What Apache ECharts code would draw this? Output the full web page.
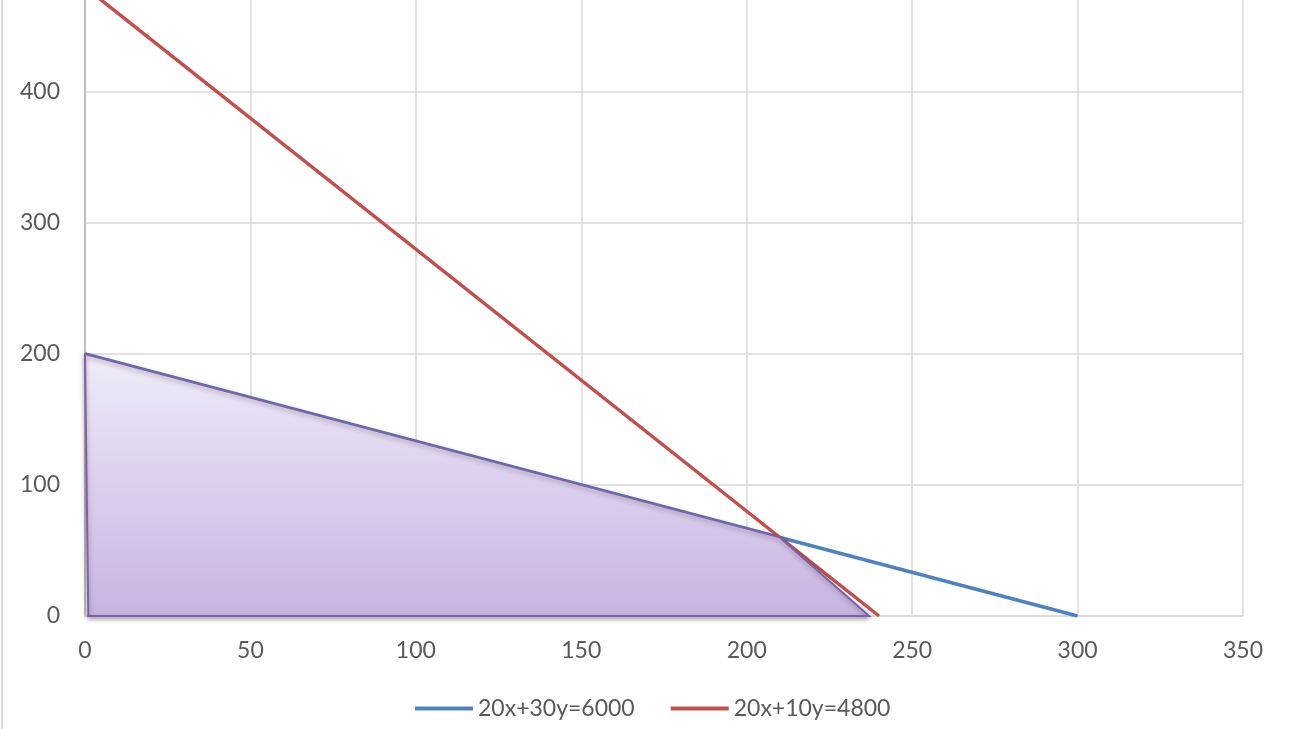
<!DOCTYPE html>
<html><head><meta charset="utf-8">
<script src="https://cdn.jsdelivr.net/npm/echarts@6/dist/echarts.min.js"></script>
<style>html,body{margin:0;padding:0;background:#fff}#c{width:1295px;height:729px}</style>
</head><body><div id="c"></div>
<script>
// Data
const blueName = '20x+30y=6000';
const blueX = [0, 300];
const blueY = [200, 0];
const redName = '20x+10y=4800';
const redX = [0, 240];
const redY = [480, 0];
const regionX = [0, 210, 237, 1];
const regionY = [200, 60, 0, 0];

const zip = (a, b) => a.map((v, i) => [v, b[i]]);
const FONT = 'Lato';
const chart = echarts.init(document.getElementById('c'));
chart.setOption({
  animation: false,
  backgroundColor: '#fff',
  textStyle: { fontFamily: FONT },
  grid: { left: 85, right: 52, top: -39, bottom: 113, containLabel: false, outerBoundsMode: 'none' },
  xAxis: {
    type: 'value', min: 0, max: 350, interval: 50,
    axisLine: { show: true, lineStyle: { color: '#d9d9d9', width: 1.5 } },
    axisTick: { show: false },
    splitLine: { show: true, lineStyle: { color: '#d9d9d9', width: 1.5 } },
    axisLabel: { color: '#595959', fontSize: 23, fontFamily: FONT, margin: 23 }
  },
  yAxis: {
    type: 'value', min: 0, max: 500, interval: 100,
    axisLine: { show: true, lineStyle: { color: '#bfbfbf', width: 2 } },
    axisTick: { show: false },
    splitLine: { show: true, lineStyle: { color: '#d9d9d9', width: 1.5 } },
    axisLabel: { color: '#595959', fontSize: 23, fontFamily: FONT, margin: 25 }
  },
  legend: {
    left: 415, top: 697, padding: 0,
    icon: 'rect',
    itemWidth: 58, itemHeight: 4, itemGap: 36,
    textStyle: { color: '#595959', fontSize: 23, fontFamily: FONT },
    data: [blueName, redName]
  },
  graphic: [{
    type: 'line', shape: { x1: 2, y1: 0, x2: 2, y2: 729 },
    style: { stroke: '#d9d9d9', lineWidth: 2 }
  }],
  series: [
    {
      name: blueName, type: 'line', data: zip(blueX, blueY), showSymbol: false,
      lineStyle: { color: '#4F81BD', width: 3.5 }, itemStyle: { color: '#4F81BD' }, z: 2
    },
    {
      name: redName, type: 'line', data: zip(redX, redY), showSymbol: false,
      lineStyle: { color: '#C0504D', width: 3.5 }, itemStyle: { color: '#C0504D' }, z: 3
    },
    {
      name: 'region', type: 'custom', z: 4,
      data: zip(regionX, regionY),
      renderItem: function (params, api) {
        if (params.dataIndex !== 0) return null;
        const pts = regionX.map((x, i) => api.coord([x, regionY[i]]));
        return {
          type: 'polygon',
          shape: { points: pts },
          style: {
            fill: new echarts.graphic.LinearGradient(0, 0, 0, 1, [
              { offset: 0, color: '#f0ebf8' },
              { offset: 1, color: '#c7b4e3' }
            ]),
            stroke: '#7d62a6', lineWidth: 2,
            shadowColor: 'rgba(0,0,0,0.35)', shadowBlur: 5, shadowOffsetY: 2
          }
        };
      }
    }
  ]
});
</script></body></html>
